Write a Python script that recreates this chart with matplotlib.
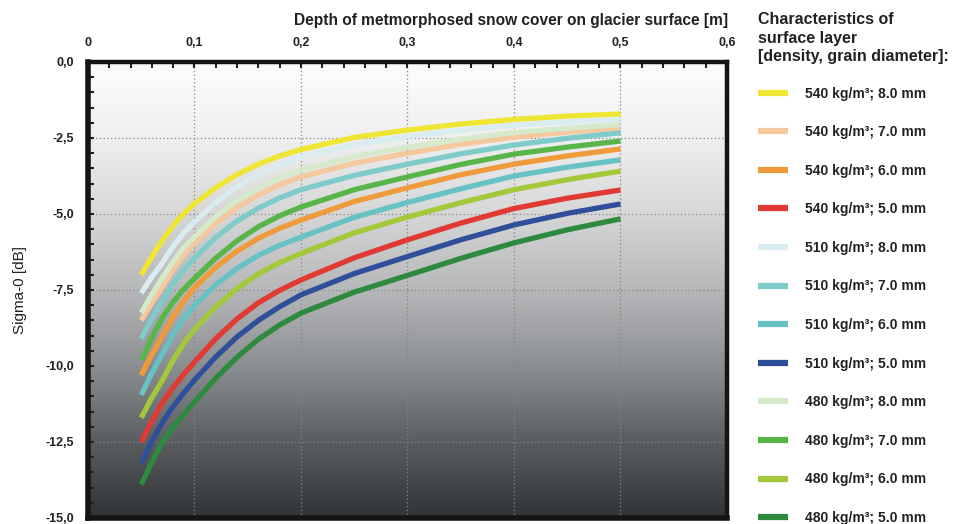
import numpy as np
import matplotlib
matplotlib.use("Agg")
import matplotlib.pyplot as plt
from matplotlib.colors import LinearSegmentedColormap
from matplotlib.ticker import MultipleLocator, FixedLocator

plt.rcParams['font.family'] = ['Liberation Sans', 'DejaVu Sans']

# Depth of metamorphosed snow cover [m]
depth = [0.05, 0.06, 0.07, 0.08, 0.09, 0.1, 0.12, 0.14, 0.16, 0.18,
         0.2, 0.25, 0.3, 0.35, 0.4, 0.45, 0.5]

# Sigma-0 [dB] for each surface layer (density, grain diameter)
s540_80 = [-7.0, -6.4, -5.86, -5.38, -4.98, -4.66, -4.13, -3.70, -3.36, -3.09,
           -2.88, -2.48, -2.24, -2.04, -1.89, -1.78, -1.71]
s510_80 = [-7.6, -7.07, -6.6, -6.06, -5.62, -5.26, -4.62, -4.10, -3.70, -3.38,
           -3.12, -2.72, -2.45, -2.24, -2.08, -1.97, -1.89]
s480_80 = [-8.25, -7.64, -7.1, -6.56, -6.11, -5.75, -5.09, -4.56, -4.14, -3.81,
           -3.55, -3.11, -2.80, -2.54, -2.32, -2.18, -2.06]
s540_70 = [-8.5, -7.92, -7.4, -6.82, -6.35, -5.96, -5.31, -4.78, -4.37, -4.04,
           -3.78, -3.33, -3.00, -2.71, -2.47, -2.31, -2.17]
s510_70 = [-9.1, -8.44, -7.85, -7.29, -6.83, -6.45, -5.77, -5.23, -4.81, -4.47,
           -4.2, -3.73, -3.36, -3.02, -2.73, -2.51, -2.33]
s480_70 = [-9.8, -9.06, -8.4, -7.89, -7.47, -7.12, -6.45, -5.88, -5.42, -5.06,
           -4.77, -4.20, -3.78, -3.37, -3.03, -2.80, -2.60]
s540_60 = [-10.3, -9.61, -9.0, -8.37, -7.85, -7.42, -6.75, -6.22, -5.80, -5.47,
           -5.2, -4.59, -4.14, -3.71, -3.36, -3.09, -2.86]
s510_60 = [-10.95, -10.23, -9.6, -8.96, -8.43, -8.0, -7.33, -6.79, -6.36, -6.03,
           -5.76, -5.11, -4.62, -4.17, -3.75, -3.46, -3.22]
s480_60 = [-11.7, -11.04, -10.46, -9.80, -9.25, -8.8, -8.05, -7.45, -6.97, -6.60,
           -6.3, -5.62, -5.10, -4.63, -4.2, -3.87, -3.59]
s540_50 = [-12.5, -11.81, -11.2, -10.7, -10.27, -9.87, -9.1, -8.45, -7.92, -7.51,
           -7.17, -6.44, -5.85, -5.30, -4.82, -4.48, -4.21]
s510_50 = [-13.2, -12.48, -11.85, -11.33, -10.88, -10.46, -9.7, -9.04, -8.5, -8.05,
           -7.66, -6.96, -6.40, -5.85, -5.36, -4.98, -4.67]
s480_50 = [-13.9, -13.16, -12.5, -12.02, -11.58, -11.18, -10.4, -9.71, -9.12, -8.65,
           -8.26, -7.57, -7.02, -6.46, -5.95, -5.52, -5.16]

labels = ['540 kg/m³; 8.0 mm', '540 kg/m³; 7.0 mm', '540 kg/m³; 6.0 mm', '540 kg/m³; 5.0 mm',
          '510 kg/m³; 8.0 mm', '510 kg/m³; 7.0 mm', '510 kg/m³; 6.0 mm', '510 kg/m³; 5.0 mm',
          '480 kg/m³; 8.0 mm', '480 kg/m³; 7.0 mm', '480 kg/m³; 6.0 mm', '480 kg/m³; 5.0 mm']
series = [s540_80, s540_70, s540_60, s540_50,
          s510_80, s510_70, s510_60, s510_50,
          s480_80, s480_70, s480_60, s480_50]
colors = ['#efe633', '#f5c89e', '#ef9b3b', '#e03a32',
          '#d9ecef', '#7fcbca', '#67c2c4', '#2f4f9b',
          '#d5eaca', '#58b649', '#a3c93b', '#2d8a3e']

xticks = [0, 0.1, 0.2, 0.3, 0.4, 0.5, 0.6]
xticklabels = ['0', '0,1', '0,2', '0,3', '0,4', '0,5', '0,6']
yticks = [0, -2.5, -5, -7.5, -10, -12.5, -15]
yticklabels = ['0,0', '-2,5', '-5,0', '-7,5', '-10,0', '-12,5', '-15,0']

fig = plt.figure(figsize=(9.54, 5.24), dpi=100)
ax = fig.add_axes([88 / 954, 1 - 518 / 524, (727 - 88) / 954, (518 - 62) / 524])

# background gradient, white on top to dark grey at the bottom
bg = LinearSegmentedColormap.from_list('bg', [
    (0.0, '#303436'), (0.17, '#5b5f62'), (0.33, '#8b8e91'),
    (0.5, '#b6b7b9'), (0.67, '#d7d7d8'), (0.83, '#efefef'), (1.0, '#fdfdfd')])
grad = np.linspace(0, 1, 256).reshape(-1, 1)
ax.imshow(grad, cmap=bg, aspect='auto', origin='lower',
          extent=[0, 0.6, -15, 0], zorder=0)

for y, c, lab in zip(series, colors, labels):
    ax.plot(depth, y, color=c, linewidth=3.8, label=lab, zorder=3,
            solid_capstyle='butt', solid_joinstyle='round')

ax.set_xlim(0, 0.6)
ax.set_ylim(-15, 0)

ax.xaxis.tick_top()
ax.xaxis.set_major_locator(FixedLocator(xticks))
ax.set_xticklabels(xticklabels, fontsize=9, fontweight='bold', color='#222222')
ax.xaxis.set_minor_locator(MultipleLocator(0.02))
ax.yaxis.set_major_locator(FixedLocator(yticks))
ax.set_yticklabels(yticklabels, fontsize=9, fontweight='bold', color='#222222')
ax.yaxis.set_minor_locator(MultipleLocator(0.5))
ax.tick_params(axis='both', which='both', direction='in', length=4, width=1.5,
               color='#222222')
ax.tick_params(axis='x', which='both', top=True, bottom=False, pad=9)
ax.tick_params(axis='y', which='both', left=True, right=False, pad=10)

for v in xticks[1:-1]:
    ax.axvline(v, color='#858585', linestyle=(0, (1, 2)), linewidth=0.9, zorder=1)
for v in yticks[1:-1]:
    ax.axhline(v, color='#858585', linestyle=(0, (1, 2)), linewidth=0.9, zorder=1)

for s in ax.spines.values():
    s.set_linewidth(3.2)
    s.set_color('#151515')
ax.spines['left'].set_linewidth(4)
ax.spines['bottom'].set_linewidth(4)

ax.set_ylabel('Sigma-0 [dB]', fontsize=11, color='#222222', labelpad=13)
fig.text(728 / 954, 1 - 20 / 524, 'Depth of metmorphosed snow cover on glacier surface [m]',
         ha='right', va='center', fontsize=11.2, fontweight='bold', color='#222222')

fig.text(758 / 954, 1 - 12 / 524, 'Characteristics of\nsurface layer\n[density, grain diameter]:',
         ha='left', va='top', fontsize=11.5, fontweight='bold', color='#222222',
         linespacing=1.3)

leg = ax.legend(loc='upper left', bbox_to_anchor=(752 / 954, 1 - 81 / 524),
                bbox_transform=fig.transFigure, frameon=False,
                prop={'size': 10, 'weight': 'bold'}, handlelength=2.2,
                handletextpad=1.2, labelspacing=1.77, borderaxespad=0)
for t in leg.get_texts():
    t.set_color('#222222')
for h in leg.legend_handles:
    h.set_linewidth(4.5)

fig.savefig('out.png', dpi=100)
